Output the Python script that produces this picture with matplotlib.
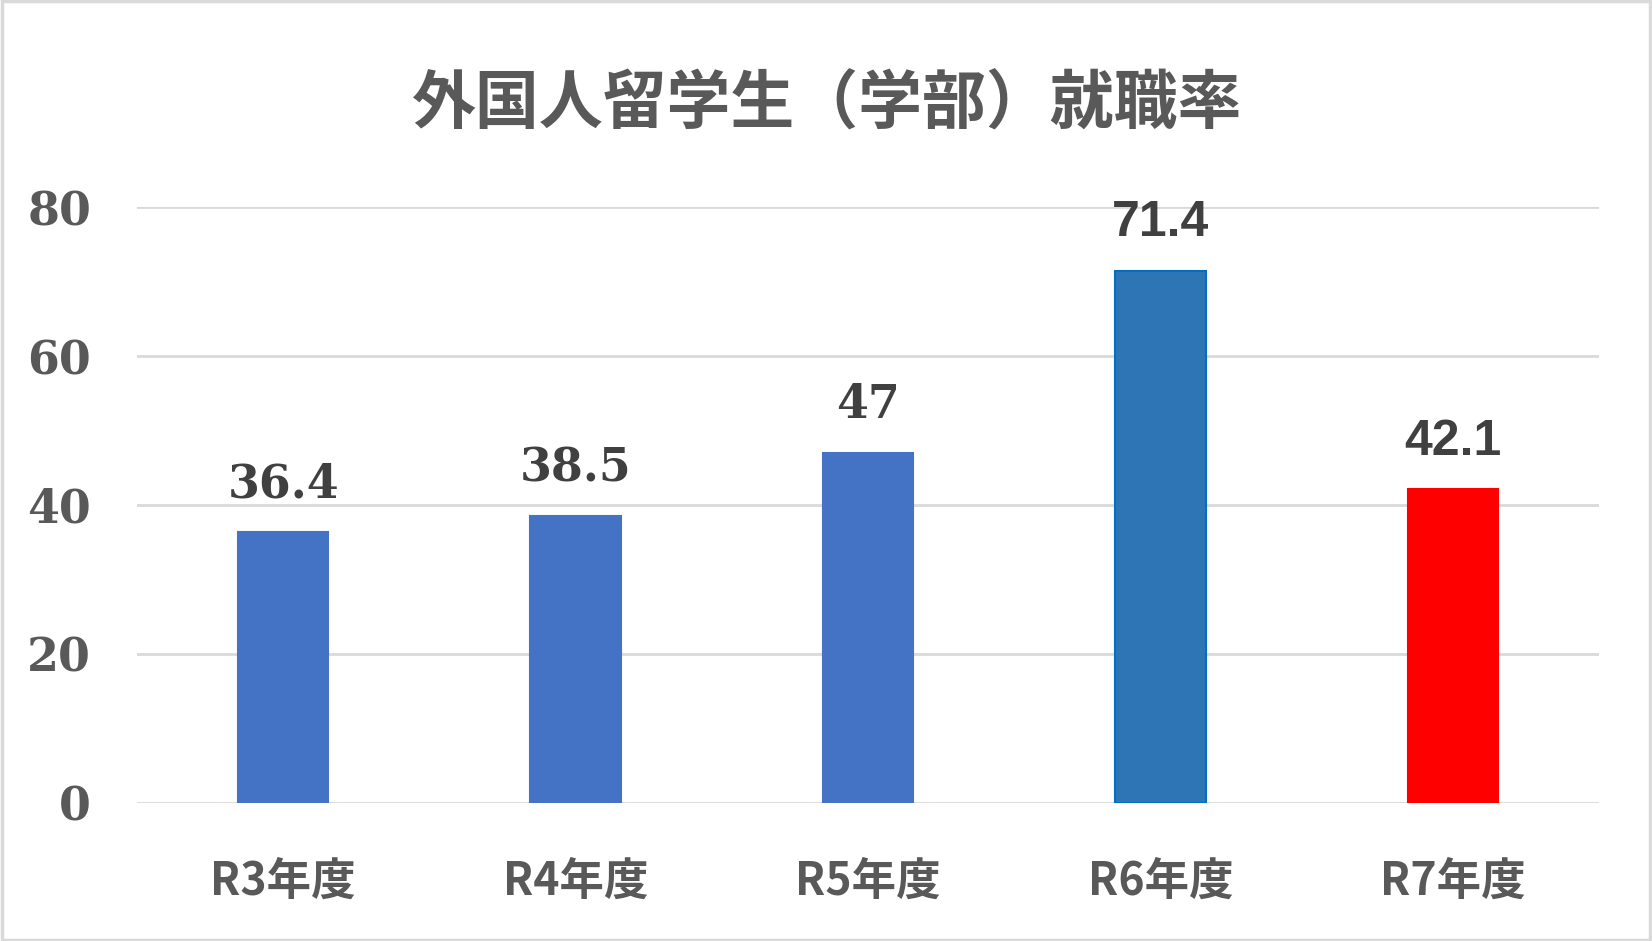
import matplotlib
matplotlib.use("Agg")
import matplotlib.pyplot as plt
from matplotlib.patches import Rectangle

# Data
years = ["R3年度", "R4年度", "R5年度", "R6年度", "R7年度"]
rates = [36.4, 38.5, 47, 71.4, 42.1]
title = "外国人留学生（学部）就職率"

# Styles per bar (kept apart from the data)
bar_colors = ["#4472C4", "#4472C4", "#4472C4", "#2E75B6", "#FF0000"]
edge_colors = ["#4472C4", "#4472C4", "#4472C4", "#0070C0", "#FF0000"]
label_fonts = [("DejaVu Serif", "bold", 33)] * 3 + [("Liberation Sans", "bold", 36)] * 2

plt.rcParams['font.family'] = ['Noto Sans CJK JP', 'DejaVu Sans']

fig = plt.figure(figsize=(16.52, 9.41), dpi=100)
ax = fig.add_axes([0.0829, 0.1467, 0.968 - 0.0829, 0.780 - 0.1467])

x = list(range(len(years)))
ax.bar(x, rates, width=0.31, color=bar_colors, edgecolor=edge_colors, linewidth=1.5, zorder=3)

for i, v in enumerate(rates):
    fam, wt, sz = label_fonts[i]
    ax.annotate(f"{v:g}", (i, v), xytext=(0, 25), textcoords="offset points",
                ha="center", va="baseline", fontsize=sz, family=fam,
                fontweight=wt, color="#404040", zorder=4)

ax.set_xlim(-0.5, len(years) - 0.5)
ax.set_ylim(0, 80)
ax.set_yticks([0, 20, 40, 60, 80])
ax.set_yticklabels(["0", "20", "40", "60", "80"], family="DejaVu Serif",
                   fontweight="bold", fontsize=33, color="#595959")
ax.set_xticks(x)
ax.set_xticklabels(years, fontsize=32, fontweight="bold", color="#595959")
ax.tick_params(axis="y", length=0, pad=33)
ax.tick_params(axis="x", length=0, pad=40)

ax.grid(axis="y", color="#D9D9D9", linewidth=2, zorder=0)
for s in ax.spines.values():
    s.set_visible(False)

fig.text(0.5, 0.889, title, ha="center", va="center", fontsize=46,
         fontweight="bold", color="#595959")

# light gray frame around the chart
fig.patches.append(Rectangle((0.001, 0.0015), 0.998, 0.997, transform=fig.transFigure,
                             fill=False, edgecolor="#D9D9D9", linewidth=2.5))

fig.savefig("out.png", dpi=100)
